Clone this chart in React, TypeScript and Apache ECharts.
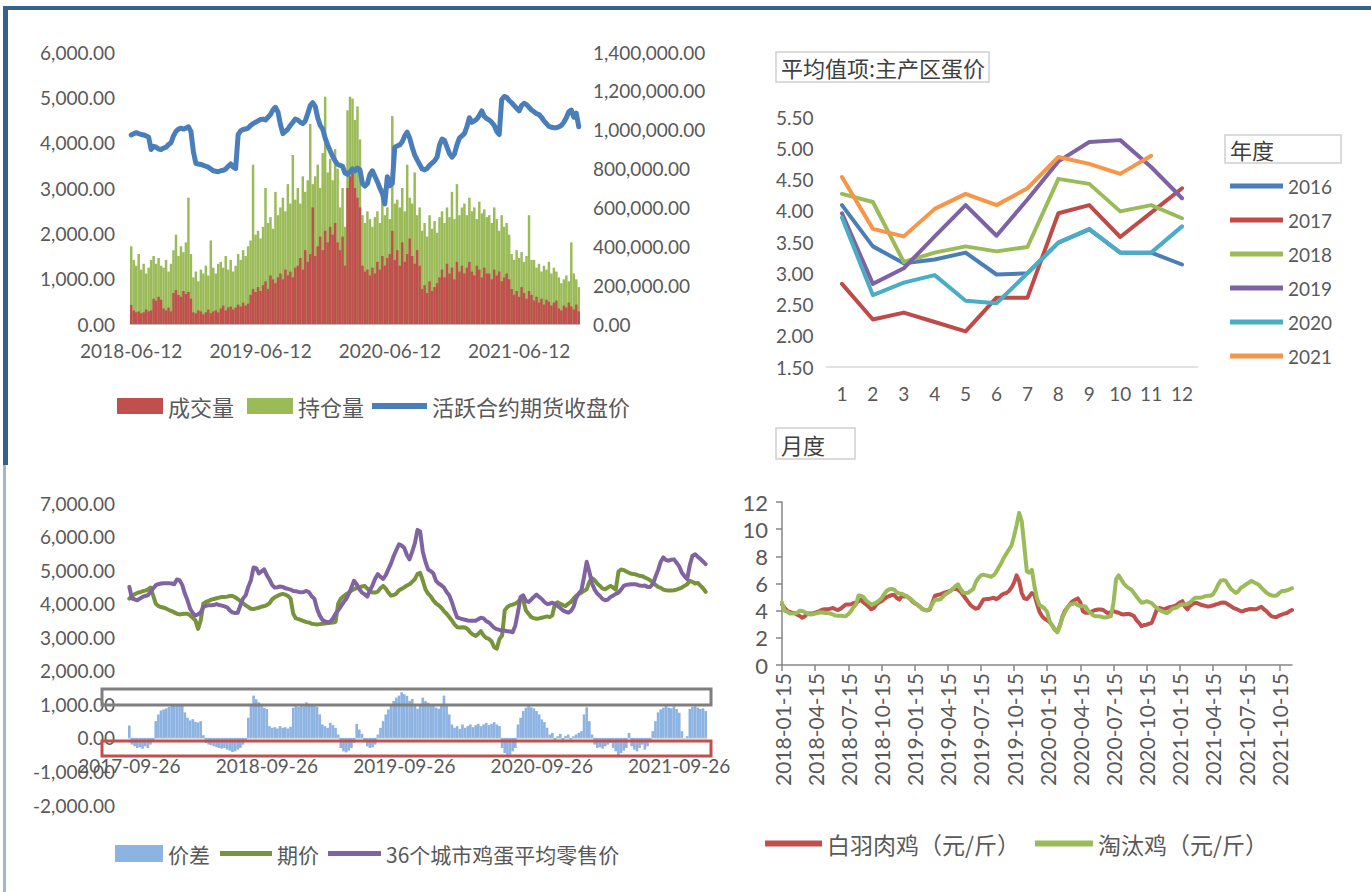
import React, { useEffect, useRef } from 'react';
import * as echarts from 'echarts';

const FONT = "Lato, 'Noto Sans CJK SC', sans-serif";
const CJK = "'Noto Sans CJK SC', Lato, sans-serif";
const TEXT_COLOR = '#595959';

// ---------------- Panel 1: 成交量 / 持仓量 / 活跃合约期货收盘价 (weekly) ----------------
const P1_SEGMENT_STARTS = ['2018-06-12', '2019-06-12', '2020-06-12', '2021-06-12'];
const P1_SEGMENT_WEEKS = [52, 52, 52, 25];
const P1_TICKS = ['2018-06-12', '2019-06-12', '2020-06-12', '2021-06-12'];
const P1_VOLUME = [
  98000, 70000, 60000, 65000, 55000, 60000, 75000, 65000, 70000,
  130000, 120000, 140000, 125000,
  80000, 70000, 85000, 65000,
  160000, 175000, 150000, 140000, 170000, 155000, 165000, 130000,
  60000, 55000, 70000, 65000, 50000, 60000, 75000, 55000, 65000, 70000, 60000,
  80000, 95000, 70000, 85000, 90000, 75000, 85000,
  100000, 90000, 110000, 95000, 105000,
  150000, 180000, 165000, 190000, 170000,
  200000, 220000, 180000, 250000, 230000, 210000, 240000,
  260000, 230000, 280000, 250000, 270000, 240000, 290000,
  300000, 340000, 280000, 380000, 320000, 360000, 600000,
  350000, 400000, 450000, 380000, 480000, 420000, 500000, 460000, 520000,
  420000, 380000, 450000, 300000,
  700000, 760000, 780000, 700000,
  650000, 600000,
  300000, 270000, 280000, 250000, 290000, 260000,
  320000, 280000, 350000, 300000, 340000, 360000, 480000, 330000,
  380000, 300000, 420000, 320000, 360000, 440000, 350000, 310000, 380000, 300000,
  180000, 200000, 160000, 220000, 170000, 190000, 210000, 240000,
  280000, 240000, 310000, 260000, 290000, 230000, 320000, 270000, 300000,
  260000, 290000, 320000, 270000, 250000, 300000, 280000, 240000, 290000, 260000,
  260000, 230000, 280000, 250000, 270000, 220000, 240000, 260000, 230000,
  180000, 150000, 170000, 140000, 190000, 160000, 130000, 170000, 150000,
  120000, 140000, 110000, 130000, 100000, 125000, 115000, 95000, 110000, 120000,
  80000, 70000, 95000, 85000, 110000, 90000, 75000, 100000, 65000,
];
const P1_OPEN_INTEREST = [
  400000, 330000, 300000, 360000, 280000, 310000, 260000, 290000, 330000,
  350000, 310000, 340000, 300000,
  290000, 330000, 270000, 310000,
  380000, 460000, 350000, 400000, 370000, 420000, 650000, 360000,
  240000, 270000, 220000, 280000, 260000, 300000, 250000, 430000, 290000, 260000, 310000,
  320000, 290000, 350000, 280000, 330000, 270000, 300000,
  360000, 330000, 380000, 350000, 400000,
  430000, 820000, 460000, 480000, 440000,
  500000, 700000, 520000, 550000, 490000, 680000, 560000,
  600000, 650000, 580000, 720000, 620000, 870000, 640000,
  700000, 620000, 760000, 680000, 740000, 1030000, 720000,
  760000, 820000, 700000, 880000, 1170000, 780000, 850000, 740000, 900000,
  800000, 600000, 700000, 500000,
  1100000, 1170000, 1160000, 1050000,
  1120000, 950000,
  560000, 520000, 580000, 540000, 500000, 550000,
  580000, 520000, 700000, 560000, 600000, 540000, 1070000, 620000,
  640000, 600000, 700000, 580000, 820000, 650000, 620000, 780000, 560000, 600000,
  480000, 520000, 450000, 560000, 490000, 530000, 470000, 550000,
  580000, 520000, 600000, 550000, 680000, 540000, 720000, 560000, 600000,
  620000, 560000, 650000, 580000, 600000, 540000, 630000, 570000, 590000, 550000,
  560000, 520000, 600000, 540000, 480000, 560000, 500000, 520000, 460000,
  360000, 330000, 380000, 340000, 370000, 320000, 350000, 560000, 330000,
  330000, 290000, 310000, 270000, 300000, 280000, 320000, 260000, 290000, 270000,
  240000, 210000, 230000, 250000, 220000, 420000, 260000, 230000, 190000,
];
const P1_CLOSE = [
  4170, 4200, 4220, 4200, 4180, 4170, 4150, 4120, 3850, 3920,
  3900, 3860, 3850, 3880, 3900, 3960, 4000, 4150, 4250, 4300,
  4320, 4300, 4320, 4350, 4250, 3800, 3540, 3530, 3520, 3500,
  3480, 3460, 3420, 3380, 3370, 3360, 3380, 3390, 3420, 3480,
  3530, 3460, 3430, 4180, 4260, 4290, 4300, 4320, 4380, 4420,
  4450, 4480, 4510, 4520, 4500, 4560, 4620, 4720, 4780, 4680,
  4400, 4200, 4250, 4300, 4380, 4450, 4520, 4500, 4450, 4420,
  4480, 4640, 4820, 4880, 4800, 4550, 4380, 4300, 4100, 3950,
  3820, 3700, 3600, 3520, 3500, 3480, 3330, 3300, 3360, 3420,
  3380, 3440, 3400, 3100, 3040, 3100, 3300, 3380, 3260, 3140,
  3000, 2880, 2650, 3250, 3050, 3100, 3900, 3930, 3950, 4020,
  4150, 4230, 4100, 3900, 3730, 3620, 3520, 3420, 3400, 3430,
  3500, 3550, 3600, 3680, 3950, 4080, 4050, 3900, 3760, 3680,
  3750, 3950, 4100, 4150, 4200, 4350, 4550, 4450, 4480, 4520,
  4600, 4700, 4580, 4530, 4500, 4450, 4380, 4250, 4180, 4950,
  5020, 5000, 4930, 4880, 4820, 4760, 4700, 4820, 4870, 4840,
  4780, 4720, 4680, 4640, 4620, 4560, 4480, 4420, 4360, 4340,
  4330, 4330, 4350, 4380, 4450, 4550, 4680, 4720, 4560, 4650, 4350,
];

// ---------------- Panel 2: 平均值项:主产区蛋价 by month ----------------
const P2_MONTHS = ['1', '2', '3', '4', '5', '6', '7', '8', '9', '10', '11', '12'];
const P2_2016 = [4.09, 3.43, 3.16, 3.22, 3.33, 2.98, 3.0, 3.49, 3.7, 3.33, 3.33, 3.14];
const P2_2017 = [2.83, 2.26, 2.37, 2.22, 2.07, 2.61, 2.61, 3.96, 4.09, 3.58, 3.97, 4.36];
const P2_2018 = [4.27, 4.14, 3.18, 3.33, 3.43, 3.35, 3.42, 4.51, 4.43, 3.99, 4.09, 3.88];
const P2_2019 = [3.96, 2.83, 3.08, 3.59, 4.09, 3.6, 4.18, 4.79, 5.1, 5.13, 4.7, 4.2];
const P2_2020 = [3.89, 2.65, 2.85, 2.97, 2.56, 2.52, 3.0, 3.49, 3.71, 3.33, 3.33, 3.75];
const P2_2021 = [4.54, 3.71, 3.59, 4.03, 4.27, 4.09, 4.36, 4.86, 4.75, 4.59, 4.88, null];
const P2_YEARS = ['2016', '2017', '2018', '2019', '2020', '2021'];
const P2_COLORS = ['#4a7ebb', '#be4b48', '#9bbb59', '#7f62a3', '#4bacc6', '#f79646'];

// ---------------- Panel 3: 价差 / 期价 / 36个城市鸡蛋平均零售价 (weekly) ----------------
const P3_SEGMENT_STARTS = ['2017-09-26', '2018-09-26', '2019-09-26', '2020-09-26', '2021-09-26'];
const P3_SEGMENT_WEEKS = [52, 52, 52, 52, 11];
const P3_TICKS = ['2017-09-26', '2018-09-26', '2019-09-26', '2020-09-26', '2021-09-26'];
const P3_SPREAD = [
  370,
  -200, -250, -300, -280, -320, -250, -300, -200, -100,
  500, 700, 820, 850, 880, 920, 950, 960, 980, 1000, 950, 760, 600, 520, 560, 480, 460, 500,
  80,
  -150, -200, -220, -250, -280, -300, -320, -300, -350, -380, -420, -400, -350, -300, -200, -100,
  600, 960, 1260, 1150, 1060, 980, 900, 860,
  350, 300, 320, 280, 350, 300, 320, 280, 330,
  900, 950, 920, 960, 940, 1060, 1000, 980, 950, 920, 700,
  400, 350, 300, 450, 380, 300, 100,
  -300, -400, -430, -380, -300, -150,
  417, 250, 120,
  -100, -250, -300, -280, -200,
  100, 300, 500, 700, 850, 960,
  1100, 1200, 1260, 1360, 1300, 1250, 1100,
  1160, 950, 870, 1000,
  1200, 1100, 1050, 950, 1000, 900, 870, 1000, 1260,
  950, 700, 400,
  300, 350, 270, 400, 300, 350, 400, 320, 380, 420, 350, 400, 450, 380, 420, 470, 400, 350,
  -300, -450, -525, -500, -400, -300,
  400, 600, 800, 900, 950, 910, 880, 800, 700, 550, 470,
  300, 100, 150, -80, 50, 120, -130, 60, 100, -50,
  50, 100, 150, 200,
  700, 913, 500,
  100, -200, -300, -280, -320, -250, -200,
  -150, -300, -400, -525, -450, -380, -300, 150, -250, -350, -400, -300, -200, -350, -250, -130,
  200, 500, 760, 850, 900, 960, 900, 880, 940, 860,
  750, 200,
  0, 50,
  860, 920, 960, 900, 860, 880, 800,
];
const P3_FUTURES = [
  4150, 4230, 4280, 4320, 4340, 4370, 4390, 4420, 4480, 4250,
  4000, 3930, 3900, 3880, 3850, 3810, 3780, 3740, 3700, 3680,
  3690, 3700, 3700, 3650, 3580, 3500, 3250, 3500, 4000, 4050,
  4080, 4120, 4140, 4160, 4180, 4200, 4200, 4210, 4230, 4230,
  4190, 4140, 4080, 4010, 3950, 3900, 3850, 3840, 3860, 3880,
  3910, 3930, 3960, 4010, 4130, 4190, 4230, 4270, 4290, 4270,
  4230, 4150, 3700, 3560, 3540, 3510, 3480, 3450, 3440, 3400,
  3390, 3380, 3390, 3400, 3410, 3420, 3430, 3440, 3460, 4000,
  4150, 4220, 4280, 4330, 4390, 4430, 4470, 4490, 4510, 4530,
  4450, 4380, 4330, 4330, 4360, 4460, 4530, 4450, 4330, 4240,
  4260, 4300, 4400, 4440, 4490, 4540, 4580, 4650, 4730, 4880,
  4920, 4690, 4430, 4300, 4220, 4100, 4010, 3950, 3880, 3780,
  3700, 3600, 3500, 3380, 3300, 3290, 3300, 3290, 3240, 3140,
  3080, 3040, 3100, 3180, 3050, 2980, 2950, 2880, 2700, 2660,
  2950, 3050, 3800, 3900, 3950, 3970, 4000, 4050, 4150, 4100,
  3800, 3700, 3600, 3570, 3550, 3560, 3580, 3600, 3620, 3600,
  3650, 4000, 4040, 4000, 3960, 3930, 4000, 4050, 4150, 4230,
  4290, 4330, 4380, 4430, 4650, 4760, 4700, 4600, 4530, 4450,
  4430, 4480, 4530, 4480, 4420, 4950, 5020, 5000, 4960, 4920,
  4890, 4880, 4860, 4830, 4820, 4780, 4740, 4700, 4620, 4560,
  4500, 4470, 4420, 4400, 4390, 4390, 4400, 4420, 4450, 4480,
  4530, 4580, 4680, 4650, 4600, 4620, 4540, 4460, 4350,
];
const P3_RETAIL = [
  4500, 4150, 4130, 4100, 4150, 4200, 4230, 4250, 4350, 4450,
  4550, 4580, 4600, 4610, 4610, 4610, 4600, 4580, 4720, 4700,
  4560, 4300, 4100, 3850, 3720, 3650, 3680, 3740, 3900, 3940,
  3950, 3950, 3960, 3990, 3960, 3940, 3920, 3890, 3800, 3740,
  3720, 3730, 3950, 4150, 4250, 4500, 4700, 5080, 5060, 4900,
  4960, 5020, 4850, 4720, 4560, 4480, 4490, 4510, 4500, 4460,
  4440, 4420, 4380, 4370, 4350, 4340, 4350, 4380, 4340, 4220,
  4150, 3850, 3650, 3520, 3470, 3440, 3460, 3560, 3700, 3800,
  3920, 4040, 4140, 4290, 4480, 4680, 4580, 4430, 4330, 4280,
  4210, 4400, 4550, 4750, 4880, 4800, 4740, 4850, 5030, 5200,
  5420, 5600, 5770, 5730, 5660, 5450, 5320, 5550, 5800, 6200,
  6150, 5550, 5250, 5020, 4970, 4900, 4680, 4600, 4550, 4480,
  4350, 4250, 4050, 3800, 3590, 3560, 3540, 3520, 3500, 3490,
  3490, 3490, 3540, 3580, 3560, 3480, 3440, 3360, 3280, 3240,
  3220, 3190, 3190, 3180, 3170, 3150, 3350, 3750, 4200, 4250,
  4080, 4050, 4120, 4200, 4270, 4200, 4140, 4050, 3990, 4000,
  4030, 3990, 3930, 3870, 3800, 3760, 3730, 3780, 3900, 4170,
  4300, 4400, 4800, 5250, 4950, 4600, 4420, 4300, 4230, 4140,
  4100, 4120, 4200, 4240, 4290, 4330, 4420, 4530, 4560, 4570,
  4580, 4580, 4570, 4540, 4530, 4540, 4500, 4500, 4580, 4800,
  5000, 5250, 5380, 5300, 5280, 5310, 5320, 5220, 5110, 4920,
  4820, 4730, 5150, 5430, 5470, 5400, 5330, 5260, 5180,
];

// ---------------- Panel 4: 白羽肉鸡 / 淘汰鸡 (元/斤, weekly) ----------------
const P4_QUARTER_STARTS = [
  '2018-01-15', '2018-04-15', '2018-07-15', '2018-10-15',
  '2019-01-15', '2019-04-15', '2019-07-15', '2019-10-15',
  '2020-01-15', '2020-04-15', '2020-07-15', '2020-10-15',
  '2021-01-15', '2021-04-15', '2021-07-15', '2021-10-15',
];
const P4_QUARTER_WEEKS = [13, 13, 13, 13, 13, 13, 13, 13, 13, 13, 13, 13, 13, 13, 13, 6];
const P4_BROILER = [
  4.45, 4.2, 4.0, 3.9, 3.85, 3.83, 3.7, 3.6, 3.48, 3.6,
  3.79, 3.79, 3.8, 3.85, 3.9, 4.0, 4.08, 4.1, 4.1, 4.15,
  4.2, 4.1, 4.05, 4.15, 4.3, 4.45, 4.45, 4.47, 4.55, 4.6,
  4.7, 4.8, 4.6, 4.45, 4.3, 4.1, 4.2, 4.45, 4.6, 4.7,
  4.85, 5.0, 5.07, 5.15, 5.15, 4.95, 4.82, 5.07, 5.05, 5.07,
  4.9, 4.7, 4.55, 4.45, 4.3, 4.13, 4.05, 4.03, 4.1, 4.6,
  5.1, 5.15, 5.2, 5.27, 5.35, 5.4, 5.45, 5.6, 5.6, 5.55,
  5.4, 5.15, 4.9, 4.65, 4.4, 4.25, 4.15, 4.2, 4.5, 4.82,
  4.85, 4.85, 4.9, 4.95, 4.85, 4.95, 5.15, 5.25, 5.3, 5.45,
  5.7, 6.06, 6.6, 6.2, 5.3, 4.9, 4.85, 5.05, 5.3, 5.15,
  4.5, 3.9, 3.6, 3.4, 3.3, 3.15, 2.9, 2.6, 2.5, 2.9,
  3.59, 4.0, 4.25, 4.5, 4.7, 4.8, 4.9, 4.6, 3.96, 3.85,
  3.85, 3.9, 3.98, 4.05, 4.08, 4.08, 4.05, 3.9, 3.8, 3.9,
  3.96, 3.9, 3.85, 3.75, 3.72, 3.75, 3.76, 3.7, 3.6, 3.3,
  3.1, 2.85, 2.95, 2.97, 3.05, 3.1, 3.59, 4.1, 4.2, 4.15,
  4.1, 4.2, 4.25, 4.3, 4.35, 4.45, 4.6, 4.7, 4.3, 4.1,
  4.35, 4.5, 4.58, 4.55, 4.45, 4.4, 4.35, 4.3, 4.33, 4.38,
  4.45, 4.5, 4.58, 4.6, 4.58, 4.45, 4.33, 4.2, 4.13, 4.05,
  3.96, 3.98, 4.05, 4.1, 4.13, 4.1, 4.1, 4.2, 4.28, 4.1,
  3.96, 3.75, 3.58, 3.54, 3.54, 3.65, 3.71, 3.78, 3.83, 3.95,
  4.05,
];
const P4_CULL = [
  4.6, 4.0, 3.92, 3.8, 3.8, 3.79, 3.85, 4.0, 3.98, 3.88,
  3.78, 3.71, 3.73, 3.78, 3.83, 3.88, 3.86, 3.83, 3.82, 3.79,
  3.72, 3.64, 3.63, 3.62, 3.6, 3.59, 3.75, 3.95, 4.25, 4.45,
  5.12, 5.1, 5.0, 4.75, 4.6, 4.45, 4.5, 4.6, 4.75, 4.9,
  5.2, 5.45, 5.57, 5.6, 5.55, 5.35, 5.27, 5.25, 5.15, 5.05,
  4.9, 4.77, 4.6, 4.45, 4.3, 4.13, 4.05, 4.03, 4.15, 4.5,
  4.8, 4.8, 4.82, 5.0, 5.2, 5.3, 5.44, 5.6, 5.8, 5.94,
  5.6, 5.32, 5.3, 5.32, 5.45, 5.6, 6.1, 6.4, 6.6, 6.65,
  6.6, 6.55, 6.5, 6.6, 6.85, 7.2, 7.5, 7.9, 8.2, 8.5,
  8.8, 9.5, 10.3, 11.2, 10.6, 8.8, 6.9, 6.8, 7.0, 5.8,
  4.9, 4.4, 4.3, 4.15, 3.9, 3.2, 2.9, 2.6, 2.4, 2.9,
  3.5, 3.9, 4.25, 4.45, 4.5, 4.55, 4.4, 4.33, 4.33, 4.3,
  4.0, 3.85, 3.65, 3.59, 3.58, 3.57, 3.5, 3.5, 3.55, 3.6,
  4.6, 6.3, 6.6, 6.3, 6.0, 5.8, 5.65, 5.55, 5.3, 5.05,
  4.8, 4.58, 4.62, 4.7, 4.62, 4.55, 4.35, 4.2, 4.05, 3.96,
  3.88, 3.83, 3.95, 4.15, 4.2, 4.25, 4.4, 4.45, 4.45, 4.5,
  4.6, 4.8, 4.95, 4.95, 4.95, 5.0, 5.07, 5.1, 5.1, 5.2,
  5.5, 5.9, 6.2, 6.25, 6.2, 5.9, 5.6, 5.45, 5.3, 5.45,
  5.69, 5.8, 5.94, 6.05, 6.19, 6.1, 6.0, 5.9, 5.69, 5.5,
  5.32, 5.2, 5.12, 5.1, 5.12, 5.3, 5.44, 5.45, 5.5, 5.57,
  5.65,
];

function weeklyDates(starts: string[], weeks: number[]): string[] {
  const out: string[] = [];
  starts.forEach((s, k) => {
    const t0 = Date.parse(s + 'T00:00:00Z');
    for (let i = 0; i < weeks[k]; i++) {
      out.push(new Date(t0 + i * 7 * 86400000).toISOString().slice(0, 10));
    }
  });
  return out;
}

const fmt2 = (v: number) =>
  v.toLocaleString('en-US', { minimumFractionDigits: 2, maximumFractionDigits: 2 });
const only = (ticks: string[]) => (_i: number, v: string) => ticks.indexOf(v) >= 0;
const axisText = (size: number, extra: any = {}) => ({
  color: TEXT_COLOR,
  fontSize: size,
  fontFamily: FONT,
  ...extra,
});

function iconLegend(
  name: string, left: number, top: number, itemWidth: number, itemHeight: number, fontSize: number,
) {
  return {
    data: [{ name, icon: 'rect' }],
    left,
    top,
    padding: 0,
    itemWidth,
    itemHeight,
    selectedMode: false,
    textStyle: { color: TEXT_COLOR, fontSize, fontFamily: CJK, lineHeight: fontSize + 2 },
  };
}

function buildOption() {
  const p1Dates = weeklyDates(P1_SEGMENT_STARTS, P1_SEGMENT_WEEKS);
  const p3Dates = weeklyDates(P3_SEGMENT_STARTS, P3_SEGMENT_WEEKS);
  const p4Dates = weeklyDates(P4_QUARTER_STARTS, P4_QUARTER_WEEKS);
  const p2Data = [P2_2016, P2_2017, P2_2018, P2_2019, P2_2020, P2_2021];

  const lineSeries = (name: string, x: number, y: number, data: any[], color: string, width: number) => ({
    name,
    type: 'line',
    xAxisIndex: x,
    yAxisIndex: y,
    data,
    symbol: 'none',
    showSymbol: false,
    smooth: false,
    color,
    itemStyle: { color },
    lineStyle: { color, width, join: 'round', cap: 'round' },
    emphasis: { disabled: true },
    silent: true,
  });

  // zero of the -2000..7000 axis inside a 302 px tall grid
  const p3ZeroOffset = -Math.round((302 * 2000) / 9000);

  return {
    animation: false,
    backgroundColor: '#ffffff',
    textStyle: { fontFamily: FONT },
    grid: [
      { left: 130, top: 52, width: 450, height: 272 },
      { left: 826.5, top: 117, width: 371, height: 250 },
      { left: 128, top: 503, width: 579, height: 302 },
      { left: 782, top: 502, width: 510, height: 163 },
    ],
    xAxis: [
      {
        gridIndex: 0,
        type: 'category',
        data: p1Dates,
        boundaryGap: true,
        axisLine: { lineStyle: { color: '#bfbfbf', width: 1 } },
        axisTick: { interval: only(P1_TICKS), alignWithLabel: true, length: 6, lineStyle: { color: '#bfbfbf' } },
        axisLabel: { interval: only(P1_TICKS), margin: 17, ...axisText(19) },
        splitLine: { show: false },
      },
      {
        gridIndex: 1,
        type: 'category',
        data: P2_MONTHS,
        boundaryGap: true,
        axisLine: { lineStyle: { color: '#d9d9d9', width: 1.5 } },
        axisTick: { show: false },
        axisLabel: { interval: 0, margin: 17, ...axisText(19) },
      },
      {
        gridIndex: 2,
        type: 'category',
        data: p3Dates,
        boundaryGap: true,
        position: 'bottom',
        offset: p3ZeroOffset,
        axisLine: { onZero: false, lineStyle: { color: '#d9d9d9', width: 1 } },
        axisTick: { interval: only(P3_TICKS), alignWithLabel: true, length: 5, lineStyle: { color: '#bfbfbf' } },
        axisLabel: { interval: only(P3_TICKS), margin: 18, ...axisText(19) },
      },
      {
        gridIndex: 3,
        type: 'category',
        data: p4Dates,
        boundaryGap: false,
        axisLine: { lineStyle: { color: '#868686', width: 1.5 } },
        axisTick: { interval: 12, length: 6, lineStyle: { color: '#868686', width: 1.5 } },
        axisLabel: { interval: 12, rotate: 90, margin: 8, ...axisText(21) },
      },
    ],
    yAxis: [
      {
        gridIndex: 0,
        type: 'value',
        min: 0,
        max: 6000,
        interval: 1000,
        axisLine: { show: false },
        axisTick: { show: false },
        splitLine: { show: false },
        axisLabel: { formatter: fmt2, margin: 15, ...axisText(19) },
      },
      {
        gridIndex: 0,
        type: 'value',
        position: 'right',
        min: 0,
        max: 1400000,
        interval: 200000,
        axisLine: { show: false },
        axisTick: { show: false },
        splitLine: { show: false },
        axisLabel: { formatter: fmt2, margin: 13, ...axisText(19) },
      },
      {
        gridIndex: 1,
        type: 'value',
        min: 1.5,
        max: 5.5,
        interval: 0.5,
        axisLine: { show: false },
        axisTick: { show: false },
        splitLine: { show: false },
        axisLabel: { formatter: (v: number) => v.toFixed(2), margin: 13, ...axisText(19) },
      },
      {
        gridIndex: 2,
        type: 'value',
        min: -2000,
        max: 7000,
        interval: 1000,
        axisLine: { show: false },
        axisTick: { show: false },
        splitLine: { show: false },
        axisLabel: { formatter: fmt2, margin: 13, ...axisText(19) },
      },
      {
        gridIndex: 3,
        type: 'value',
        min: 0,
        max: 12,
        interval: 2,
        axisLine: { show: true, lineStyle: { color: '#868686', width: 1.5 } },
        axisTick: { show: true, length: 6, lineStyle: { color: '#868686', width: 1.5 } },
        splitLine: { show: false },
        axisLabel: { margin: 14, ...axisText(22) },
      },
    ],
    legend: [
      iconLegend('成交量', 117, 394, 46, 16, 22),
      iconLegend('持仓量', 247, 394, 46, 16, 22),
      iconLegend('活跃合约期货收盘价', 372, 394, 55, 6, 22),
      {
        orient: 'vertical',
        data: P2_YEARS.map((name) => ({ name, icon: 'rect' })),
        left: 1230,
        top: 176,
        padding: 0,
        itemWidth: 53,
        itemHeight: 5,
        itemGap: 14,
        selectedMode: false,
        textStyle: { color: TEXT_COLOR, fontSize: 19, fontFamily: FONT, lineHeight: 20 },
      },
      iconLegend('价差', 115, 842, 48, 17, 21),
      iconLegend('期价', 220, 842, 52, 5, 21),
      iconLegend('36个城市鸡蛋平均零售价', 328, 842, 53, 5, 21),
      iconLegend('白羽肉鸡（元/斤）', 765, 831, 57, 6, 23),
      iconLegend('淘汰鸡（元/斤）', 1035, 831, 58, 6, 23),
    ],
    series: [
      {
        name: '持仓量',
        type: 'bar',
        xAxisIndex: 0,
        yAxisIndex: 1,
        data: P1_OPEN_INTEREST,
        color: '#9bbb59',
        itemStyle: { color: '#9bbb59' },
        barGap: '-100%',
        barCategoryGap: '0%',
        silent: true,
      },
      {
        name: '成交量',
        type: 'bar',
        xAxisIndex: 0,
        yAxisIndex: 1,
        data: P1_VOLUME,
        color: '#c0504d',
        itemStyle: { color: '#c0504d' },
        barGap: '-100%',
        barCategoryGap: '0%',
        silent: true,
      },
      lineSeries('活跃合约期货收盘价', 0, 0, P1_CLOSE, '#4a7ebb', 5),
      ...P2_YEARS.map((y, k) => lineSeries(y, 1, 2, p2Data[k], P2_COLORS[k], 4)),
      {
        name: '价差',
        type: 'bar',
        xAxisIndex: 2,
        yAxisIndex: 3,
        data: P3_SPREAD,
        color: '#8db3e2',
        itemStyle: { color: '#8db3e2' },
        barCategoryGap: '0%',
        silent: true,
      },
      lineSeries('期价', 2, 3, P3_FUTURES, '#77933c', 4),
      lineSeries('36个城市鸡蛋平均零售价', 2, 3, P3_RETAIL, '#8064a2', 4),
      lineSeries('白羽肉鸡（元/斤）', 3, 4, P4_BROILER, '#c0504d', 4),
      lineSeries('淘汰鸡（元/斤）', 3, 4, P4_CULL, '#9bbb59', 4),
    ],
    graphic: {
      elements: [
        { type: 'rect', silent: true, shape: { x: 3, y: 6, width: 1368, height: 4 }, style: { fill: '#34618f' } },
        { type: 'rect', silent: true, shape: { x: 3, y: 6, width: 5, height: 459 }, style: { fill: '#34618f' } },
        { type: 'rect', silent: true, shape: { x: 3, y: 465, width: 3, height: 427 }, style: { fill: '#a3b6cf' } },
        {
          type: 'rect', silent: true,
          shape: { x: 776, y: 52, width: 213, height: 30 },
          style: { fill: '#ffffff', stroke: '#d0d0d0', lineWidth: 1.5 },
        },
        {
          type: 'text', silent: true, x: 781, y: 67,
          style: { text: '平均值项:主产区蛋价', fontSize: 22, fontFamily: CJK, fill: '#404040', verticalAlign: 'middle' },
        },
        {
          type: 'rect', silent: true,
          shape: { x: 1225, y: 135, width: 116, height: 28 },
          style: { fill: '#ffffff', stroke: '#d0d0d0', lineWidth: 1.5 },
        },
        {
          type: 'text', silent: true, x: 1230, y: 149,
          style: { text: '年度', fontSize: 22, fontFamily: CJK, fill: '#404040', verticalAlign: 'middle' },
        },
        {
          type: 'rect', silent: true,
          shape: { x: 776, y: 428, width: 79, height: 31 },
          style: { fill: '#ffffff', stroke: '#d0d0d0', lineWidth: 1.5 },
        },
        {
          type: 'text', silent: true, x: 781, y: 444,
          style: { text: '月度', fontSize: 22, fontFamily: CJK, fill: '#404040', verticalAlign: 'middle' },
        },
        {
          type: 'rect', silent: true, z: 100,
          shape: { x: 102, y: 689, width: 609, height: 16 },
          style: { fill: 'none', stroke: '#7f7f7f', lineWidth: 3 },
        },
        {
          type: 'rect', silent: true, z: 100,
          shape: { x: 102, y: 741, width: 609, height: 15 },
          style: { fill: 'none', stroke: '#c0504d', lineWidth: 3 },
        },
      ],
    },
  };
}

export default function App() {
  const ref = useRef<HTMLDivElement>(null);
  useEffect(() => {
    if (!ref.current) return;
    const chart = echarts.init(ref.current, undefined, { renderer: 'svg' });
    chart.setOption(buildOption() as any);
    return () => chart.dispose();
  }, []);
  return (
    <div
      ref={ref}
      style={{ position: 'fixed', left: 0, top: 0, width: 1371, height: 892, background: '#ffffff' }}
    />
  );
}
